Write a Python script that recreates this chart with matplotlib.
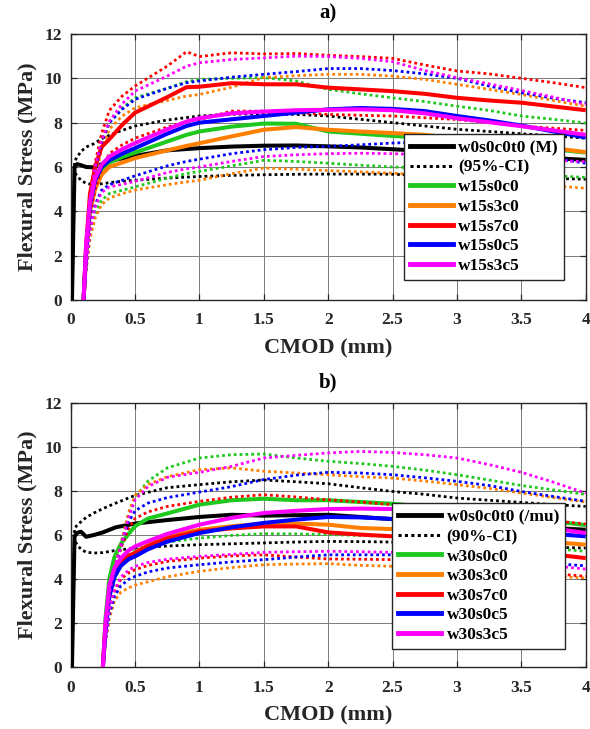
import matplotlib
matplotlib.use("Agg")
import matplotlib.pyplot as plt
from matplotlib.lines import Line2D

plt.rcParams['font.family'] = ['Liberation Serif', 'DejaVu Serif']
plt.rcParams['font.weight'] = 'bold'

# ---------------- data ----------------
# CMOD grid for the plain-mortar reference curves (both panels)
ref_x = [0.01, 0.02, 0.03, 0.05, 0.08, 0.12, 0.18, 0.25, 0.35, 0.50, 0.75, 1.00,
         1.25, 1.50, 1.75, 2.00, 2.25, 2.50, 2.75, 3.00, 3.25, 3.50, 3.75, 4.00]

# panel a) reference w0s0c0t0 (M) with 95% CI
a_ref_mean = [0, 3.0, 6.0, 6.13, 6.08, 6.0, 5.98, 6.15, 6.33, 6.5, 6.75, 6.85,
              6.92, 6.96, 6.97, 6.93, 6.88, 6.8, 6.72, 6.65, 6.57, 6.48, 6.4, 6.32]
a_ref_hi = [0, 3.2, 6.25, 6.45, 6.7, 6.9, 7.05, 7.3, 7.55, 7.85, 8.12, 8.3,
            8.38, 8.4, 8.37, 8.3, 8.15, 8.0, 7.85, 7.7, 7.6, 7.5, 7.4, 7.3]
a_ref_lo = [0, 2.8, 5.75, 5.6, 5.4, 5.26, 5.2, 5.25, 5.33, 5.4, 5.5, 5.57,
            5.62, 5.65, 5.67, 5.68, 5.68, 5.67, 5.62, 5.58, 5.55, 5.52, 5.48, 5.45]

# panel b) reference w0s0c0t0 (/mu) with 90% CI
b_ref_mean = [0, 3.0, 5.94, 6.1, 6.15, 5.92, 6.0, 6.12, 6.35, 6.52, 6.68, 6.82,
              6.92, 6.88, 6.9, 6.92, 6.82, 6.72, 6.6, 6.55, 6.48, 6.4, 6.32, 6.24]
b_ref_hi = [0, 3.2, 6.3, 6.45, 6.6, 6.8, 7.0, 7.2, 7.45, 7.8, 8.15, 8.29,
            8.42, 8.5, 8.42, 8.33, 8.15, 7.98, 7.85, 7.68, 7.58, 7.48, 7.38, 7.3]
b_ref_lo = [0, 2.8, 5.75, 5.56, 5.35, 5.22, 5.18, 5.2, 5.3, 5.41, 5.5, 5.56,
            5.6, 5.64, 5.68, 5.71, 5.7, 5.68, 5.62, 5.58, 5.52, 5.48, 5.44, 5.41]

# panel a) fibre mixes, w15 series
a_x = [0.10, 0.12, 0.15, 0.19, 0.24, 0.30, 0.40, 0.50, 0.75, 0.90, 1.00, 1.25,
       1.50, 1.75, 2.00, 2.25, 2.50, 2.75, 3.00, 3.25, 3.50, 3.75, 4.00]
a_labels = ['w15s0c0', 'w15s3c0', 'w15s7c0', 'w15s0c5', 'w15s3c5']

a_w15s0c0 = [0, 2.2, 4.2, 5.3, 5.9, 6.2, 6.45, 6.65, 7.15, 7.45, 7.6, 7.82,
             7.96, 7.95, 7.6, 7.5, 7.4, 7.32, 7.2, 7.05, 6.95, 6.8, 6.65]
a_w15s0c0_hi = [0, 2.3, 4.5, 5.9, 7.1, 8.0, 8.65, 9.12, 9.55, 9.85, 9.95, 10.0,
                10.03, 9.88, 9.5, 9.3, 9.12, 8.95, 8.74, 8.55, 8.3, 8.15, 7.98]
a_w15s0c0_lo = [0, 1.4, 2.9, 3.9, 4.5, 4.8, 4.95, 5.1, 5.5, 5.7, 5.8, 6.05,
                6.3, 6.25, 6.17, 6.08, 6.0, 5.95, 5.85, 5.75, 5.67, 5.6, 5.53]

a_w15s3c0 = [0, 2.0, 4.0, 5.0, 5.65, 6.0, 6.2, 6.4, 6.75, 6.95, 7.07, 7.38,
             7.68, 7.8, 7.68, 7.6, 7.53, 7.45, 7.3, 7.15, 7.0, 6.85, 6.67]
a_w15s3c0_hi = [0, 2.0, 4.2, 5.5, 6.8, 7.7, 8.3, 8.67, 9.0, 9.2, 9.27, 9.6,
                10.03, 10.12, 10.18, 10.18, 10.1, 9.95, 9.73, 9.5, 9.27, 9.0, 8.74]
a_w15s3c0_lo = [0, 1.3, 2.8, 3.7, 4.3, 4.6, 4.8, 4.96, 5.2, 5.33, 5.4, 5.7,
                5.95, 5.9, 5.84, 5.78, 5.72, 5.62, 5.5, 5.38, 5.25, 5.15, 5.04]

a_w15s7c0 = [0, 2.5, 4.8, 6.0, 6.9, 7.25, 7.9, 8.45, 9.15, 9.6, 9.62, 9.78,
             9.73, 9.73, 9.58, 9.5, 9.42, 9.3, 9.12, 9.0, 8.9, 8.73, 8.56]
a_w15s7c0_hi = [0, 2.5, 4.8, 6.2, 7.5, 8.55, 9.2, 9.65, 10.55, 11.2, 10.98, 11.15,
                11.1, 11.12, 11.04, 10.98, 10.9, 10.6, 10.33, 10.2, 10.0, 9.8, 9.58]
a_w15s7c0_lo = [0, 1.8, 3.8, 5.0, 5.9, 6.6, 7.0, 7.3, 7.8, 8.05, 8.14, 8.52,
                8.52, 8.45, 8.37, 8.33, 8.3, 8.22, 8.14, 8.0, 7.84, 7.75, 7.65]

a_w15s0c5 = [0, 2.2, 4.3, 5.4, 6.0, 6.3, 6.6, 6.85, 7.5, 7.85, 8.0, 8.15,
             8.3, 8.45, 8.6, 8.66, 8.62, 8.52, 8.3, 8.1, 7.87, 7.6, 7.33]
a_w15s0c5_hi = [0, 2.3, 4.5, 5.9, 7.1, 8.0, 8.6, 9.05, 9.55, 9.8, 9.88, 10.05,
                10.18, 10.3, 10.44, 10.44, 10.35, 10.2, 10.0, 9.65, 9.35, 9.1, 8.9]
a_w15s0c5_lo = [0, 1.5, 3.2, 4.3, 4.95, 5.2, 5.4, 5.6, 6.05, 6.25, 6.35, 6.6,
                6.78, 6.88, 6.93, 7.0, 7.08, 7.12, 7.0, 6.8, 6.6, 6.4, 6.17]

a_w15s3c5 = [0, 2.5, 4.4, 5.5, 6.1, 6.47, 6.8, 7.08, 7.7, 8.05, 8.2, 8.42,
             8.5, 8.56, 8.58, 8.6, 8.56, 8.42, 8.2, 8.02, 7.84, 7.65, 7.45]
a_w15s3c5_hi = [0, 2.4, 4.6, 6.0, 7.2, 8.05, 8.85, 9.42, 10.1, 10.55, 10.7, 10.85,
                10.92, 11.0, 10.98, 10.9, 10.75, 10.35, 10.03, 9.75, 9.45, 9.15, 8.82]
a_w15s3c5_lo = [0, 1.5, 3.1, 4.2, 4.85, 5.1, 5.22, 5.35, 5.75, 5.92, 6.0, 6.25,
                6.47, 6.55, 6.6, 6.62, 6.6, 6.55, 6.5, 6.42, 6.35, 6.3, 6.24]

# panel b) fibre mixes, w30 series
b_x = [0.25, 0.27, 0.30, 0.34, 0.39, 0.45, 0.50, 0.60, 0.75, 1.00, 1.25, 1.50,
       1.75, 2.00, 2.25, 2.50, 2.75, 3.00, 3.25, 3.50, 3.75, 4.00]
b_labels = ['w30s0c0', 'w30s3c0', 'w30s7c0', 'w30s0c5', 'w30s3c5']

b_w30s0c0 = [0, 2.2, 4.0, 5.0, 5.6, 6.05, 6.4, 6.75, 6.98, 7.38, 7.58, 7.65,
             7.58, 7.58, 7.5, 7.42, 7.3, 7.15, 7.0, 6.8, 6.62, 6.45]
b_w30s0c0_hi = [0, 1.8, 3.3, 4.5, 5.6, 7.0, 7.7, 8.45, 9.05, 9.5, 9.65, 9.68,
                9.5, 9.35, 9.25, 9.12, 8.95, 8.74, 8.5, 8.25, 8.05, 7.85]
b_w30s0c0_lo = [0, 1.5, 2.9, 3.9, 4.7, 5.1, 5.3, 5.5, 5.68, 5.86, 5.98, 6.06,
                6.05, 6.02, 5.98, 5.94, 5.85, 5.75, 5.62, 5.5, 5.38, 5.26]

b_w30s3c0 = [0, 1.8, 3.4, 4.3, 4.8, 5.05, 5.2, 5.55, 5.95, 6.24, 6.4, 6.52,
             6.52, 6.47, 6.32, 6.27, 6.2, 6.1, 5.95, 5.8, 5.68, 5.56]
b_w30s3c0_hi = [0, 1.8, 3.3, 4.5, 5.6, 7.0, 7.8, 8.3, 8.65, 8.97, 9.05, 8.9,
                8.82, 8.74, 8.65, 8.59, 8.45, 8.29, 8.12, 7.91, 7.7, 7.5]
b_w30s3c0_lo = [0, 1.1, 2.2, 3.0, 3.4, 3.6, 3.72, 3.88, 4.1, 4.35, 4.52, 4.65,
                4.68, 4.7, 4.62, 4.58, 4.5, 4.42, 4.32, 4.22, 4.12, 4.05]

b_w30s7c0 = [0, 1.8, 3.4, 4.3, 4.8, 5.05, 5.18, 5.5, 5.85, 6.17, 6.3, 6.39,
             6.39, 6.12, 6.02, 5.94, 5.85, 5.7, 5.5, 5.3, 5.12, 4.95]
b_w30s7c0_hi = [0, 1.6, 3.1, 4.3, 5.4, 6.3, 6.75, 7.05, 7.3, 7.53, 7.72, 7.83,
                7.73, 7.6, 7.5, 7.38, 7.25, 7.1, 6.95, 6.8, 6.65, 6.5]
b_w30s7c0_lo = [0, 1.3, 2.5, 3.4, 4.0, 4.28, 4.42, 4.62, 4.8, 4.95, 5.05, 5.1,
                5.0, 4.91, 4.9, 4.88, 4.8, 4.68, 4.55, 4.4, 4.25, 4.12]

b_w30s0c5 = [0, 1.6, 3.2, 4.1, 4.6, 4.9, 5.03, 5.35, 5.7, 6.09, 6.35, 6.55,
             6.7, 6.82, 6.8, 6.73, 6.62, 6.5, 6.35, 6.2, 6.05, 5.94]
b_w30s0c5_hi = [0, 1.6, 3.1, 4.3, 5.5, 6.6, 7.1, 7.45, 7.7, 7.95, 8.2, 8.52,
                8.72, 8.85, 8.82, 8.74, 8.6, 8.44, 8.25, 7.98, 7.75, 7.53]
b_w30s0c5_lo = [0, 1.2, 2.4, 3.2, 3.7, 3.98, 4.12, 4.32, 4.5, 4.65, 4.78, 4.88,
                5.0, 5.1, 5.1, 5.1, 5.05, 4.98, 4.9, 4.8, 4.7, 4.6]

b_w30s3c5 = [0, 2.0, 3.7, 4.5, 4.95, 5.3, 5.48, 5.72, 6.05, 6.47, 6.78, 7.0,
             7.1, 7.18, 7.2, 7.18, 7.1, 6.95, 6.75, 6.55, 6.3, 6.09]
b_w30s3c5_hi = [0, 1.8, 3.3, 4.5, 5.5, 6.8, 7.6, 8.2, 8.62, 8.85, 9.12, 9.5,
                9.62, 9.73, 9.8, 9.75, 9.65, 9.5, 9.2, 8.85, 8.4, 7.9]
b_w30s3c5_lo = [0, 1.3, 2.6, 3.5, 4.1, 4.4, 4.58, 4.75, 4.9, 5.03, 5.12, 5.21,
                5.24, 5.26, 5.24, 5.21, 5.12, 5.0, 4.87, 4.73, 4.6, 4.45]

x_ticks = [0, 0.5, 1, 1.5, 2, 2.5, 3, 3.5, 4]
x_tick_labels = ['0', '0.5', '1', '1.5', '2', '2.5', '3', '3.5', '4']
y_ticks = [0, 2, 4, 6, 8, 10, 12]

# ---------------- style ----------------
mix_colors = ['#1ec81e', '#ff8000', '#ff0000', '#0000ff', '#ff00ff']
SOLID_LW = 2.9
DOT_LW = 2.0
DOT_STYLE = (0, (1.0, 1.1))

a_mixes = [(a_w15s0c0, a_w15s0c0_hi, a_w15s0c0_lo),
           (a_w15s3c0, a_w15s3c0_hi, a_w15s3c0_lo),
           (a_w15s7c0, a_w15s7c0_hi, a_w15s7c0_lo),
           (a_w15s0c5, a_w15s0c5_hi, a_w15s0c5_lo),
           (a_w15s3c5, a_w15s3c5_hi, a_w15s3c5_lo)]
b_mixes = [(b_w30s0c0, b_w30s0c0_hi, b_w30s0c0_lo),
           (b_w30s3c0, b_w30s3c0_hi, b_w30s3c0_lo),
           (b_w30s7c0, b_w30s7c0_hi, b_w30s7c0_lo),
           (b_w30s0c5, b_w30s0c5_hi, b_w30s0c5_lo),
           (b_w30s3c5, b_w30s3c5_hi, b_w30s3c5_lo)]


def draw_panel(ax, title, ref_mean, ref_hi, ref_lo, ref_label, ci_label,
               mx, mixes, labels, legend_anchor):
    ax.plot(ref_x, ref_mean, color='k', lw=SOLID_LW, solid_capstyle='butt', zorder=3)
    for ci in (ref_hi, ref_lo):
        ax.plot(ref_x, ci, color='k', lw=DOT_LW, linestyle=DOT_STYLE,
                dash_capstyle='butt', zorder=3)
    for (mean, hi, lo), c in zip(mixes, mix_colors):
        ax.plot(mx, mean, color=c, lw=SOLID_LW, solid_capstyle='butt', zorder=3)
        for ci in (hi, lo):
            ax.plot(mx, ci, color=c, lw=DOT_LW, linestyle=DOT_STYLE,
                    dash_capstyle='butt', zorder=3)

    ax.set_xlim(0, 4)
    ax.set_ylim(0, 12)
    ax.set_xticks(x_ticks)
    ax.set_xticklabels(x_tick_labels)
    ax.set_yticks(y_ticks)
    ax.grid(True, color='#7a7a7a', lw=0.7, zorder=0)
    ax.set_axisbelow(True)
    ax.tick_params(direction='in', top=True, right=True, length=4, width=0.9,
                   labelsize=12.5, colors='#262626')
    ax.tick_params(axis='x', pad=9)
    ax.tick_params(axis='y', pad=6)
    for lbl in ax.get_xticklabels() + ax.get_yticklabels():
        lbl.set_fontweight('bold')
        lbl.set_color('#262626')
    for sp in ax.spines.values():
        sp.set_linewidth(1.0)
        sp.set_color('#262626')
    ax.set_xlabel('CMOD (mm)', fontsize=16, fontweight='bold', labelpad=7,
                  color='#262626')
    ax.set_ylabel('Flexural Stress (MPa)', fontsize=16, fontweight='bold',
                  labelpad=5, color='#262626')
    ax.set_title(title, fontsize=15, fontweight='bold', pad=11)

    handles = [Line2D([], [], color='k', lw=SOLID_LW + 0.6),
               Line2D([], [], color='k', lw=DOT_LW + 0.2, linestyle=DOT_STYLE)]
    handles += [Line2D([], [], color=c, lw=SOLID_LW + 0.6) for c in mix_colors]
    leg = ax.legend(handles, [ref_label, ci_label] + labels, loc='upper right',
                    bbox_to_anchor=legend_anchor, frameon=True, fancybox=False,
                    framealpha=1, edgecolor='#262626',
                    prop={'weight': 'bold', 'size': 12.5}, handlelength=2.5,
                    handletextpad=0.3, labelspacing=0.2, borderpad=0.35,
                    borderaxespad=0)
    leg.get_frame().set_linewidth(1.0)
    leg.set_zorder(5)


fig = plt.figure(figsize=(5.9, 7.29), dpi=100)
ax_a = fig.add_axes([0.1198, 0.5885, 0.8729, 0.3649])
ax_b = fig.add_axes([0.1198, 0.0850, 0.8729, 0.3622])

draw_panel(ax_a, 'a)', a_ref_mean, a_ref_hi, a_ref_lo, 'w0s0c0t0 (M)', '(95%-CI)',
           a_x, a_mixes, a_labels, (0.958, 0.624))
draw_panel(ax_b, 'b)', b_ref_mean, b_ref_hi, b_ref_lo, 'w0s0c0t0 (/mu)', '(90%-CI)',
           b_x, b_mixes, b_labels, (0.960, 0.621))

fig.savefig('out.png', dpi=100)
